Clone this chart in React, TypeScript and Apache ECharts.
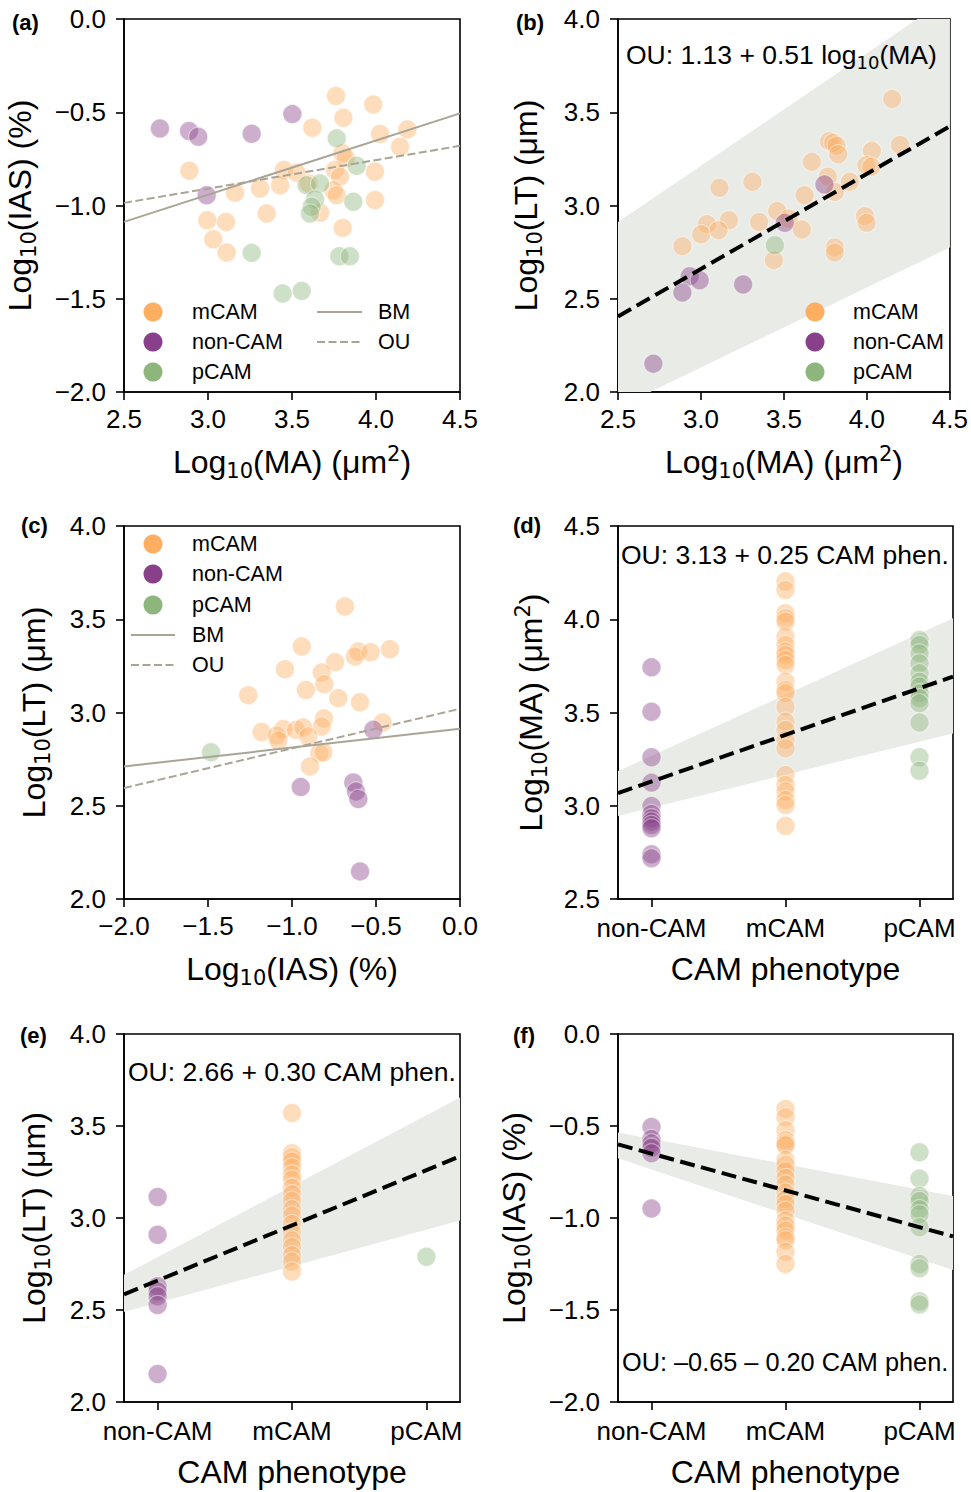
import React, { useEffect, useRef } from 'react';
import * as echarts from 'echarts';

// ---------- categories / labels ----------
const LEGEND_CATS = ['mCAM', 'non-CAM', 'pCAM'];
const AXIS_CATS = ['non-CAM', 'mCAM', 'pCAM'];
const MODELS = ['BM', 'OU'];

// ---------- panel (a): Log10(MA) vs Log10(IAS) ----------
const aMCAM = [[3.762, -0.413], [3.984, -0.458], [3.806, -0.53], [3.621, -0.583], [4.024, -0.617], [4.187, -0.592], [4.143, -0.685], [3.8, -0.72], [3.82, -0.745], [2.889, -0.814], [3.452, -0.81], [3.528, -0.825], [3.756, -0.81], [3.786, -0.846], [3.429, -0.891], [3.31, -0.909], [3.161, -0.932], [3.746, -0.918], [3.766, -0.945], [3.994, -0.819], [3.994, -0.971], [3.349, -1.043], [3.667, -1.039], [2.996, -1.079], [3.107, -1.088], [3.032, -1.181], [3.111, -1.252], [3.802, -1.12], [3.6, -0.882]];
const aNonCAM = [[2.714, -0.587], [2.887, -0.601], [2.942, -0.631], [3.26, -0.615], [3.502, -0.51], [2.992, -0.945]];
const aPCAM = [[3.766, -0.64], [3.885, -0.787], [3.587, -0.891], [3.667, -0.882], [3.637, -0.968], [3.617, -1.007], [3.607, -1.043], [3.865, -0.98], [3.26, -1.254], [3.782, -1.272], [3.845, -1.272], [3.444, -1.472], [3.558, -1.458]];
const aBM = [[2.5, -1.088], [4.5, -0.506]];
const aOU = [[2.5, -0.986], [4.5, -0.68]];

// ---------- panel (b): Log10(MA) vs Log10(LT) ----------
const bMCAM = [[4.152, 3.571], [3.772, 3.345], [3.797, 3.336], [3.817, 3.32], [3.827, 3.275], [4.199, 3.324], [4.03, 3.293], [3.997, 3.216], [4.026, 3.208], [3.668, 3.234], [3.764, 3.154], [3.897, 3.127], [3.807, 3.073], [3.31, 3.127], [3.111, 3.095], [3.624, 3.055], [3.459, 2.97], [3.529, 2.93], [3.35, 2.912], [3.168, 2.921], [3.036, 2.9], [3.001, 2.846], [3.106, 2.868], [2.888, 2.782], [3.608, 2.871], [3.988, 2.943], [3.998, 2.907], [3.806, 2.775], [3.806, 2.748], [3.439, 2.707]];
const bNonCAM = [[3.744, 3.113], [3.505, 2.907], [2.932, 2.621], [2.992, 2.599], [2.888, 2.533], [3.254, 2.576], [2.713, 2.152]];
const bPCAM = [[3.445, 2.787]];
const bOU = [1.13, 0.51];
const bBandLow = [[2.5, 1.917], [4.5, 2.775]];
const bBandHigh = [[2.5, 2.912], [4.5, 4.118]];

// ---------- panel (c): Log10(IAS) vs Log10(LT) ----------
const cMCAM = [[-0.685, 3.568], [-0.942, 3.354], [-0.605, 3.327], [-0.625, 3.3], [-0.532, 3.323], [-0.417, 3.339], [-0.744, 3.27], [-1.042, 3.232], [-0.823, 3.214], [-0.808, 3.152], [-0.917, 3.121], [-0.724, 3.077], [-1.26, 3.093], [-0.595, 3.055], [-0.81, 2.968], [-0.823, 2.925], [-0.46, 2.946], [-1.181, 2.895], [-1.052, 2.911], [-0.976, 2.907], [-0.933, 2.92], [-0.903, 2.871], [-1.091, 2.877], [-1.081, 2.85], [-0.837, 2.782], [-0.813, 2.787], [-0.893, 2.711]];
const cNonCAM = [[-0.516, 2.907], [-0.635, 2.625], [-0.619, 2.577], [-0.605, 2.536], [-0.948, 2.6], [-0.595, 2.148]];
const cPCAM = [[-1.482, 2.787]];
const cBM = [[-2, 2.711], [0, 2.9125]];
const cOU = [[-2, 2.595], [0, 3.02]];

// ---------- panel (d): CAM phenotype vs Log10(MA) ----------
const dNonCAM = [3.742, 3.504, 3.26, 3.124, 2.999, 2.956, 2.933, 2.915, 2.897, 2.879, 2.74, 2.718];
const dMCAM = [4.202, 4.157, 4.032, 4.005, 3.987, 3.907, 3.862, 3.826, 3.808, 3.782, 3.755, 3.665, 3.621, 3.603, 3.531, 3.451, 3.406, 3.353, 3.308, 3.165, 3.111, 3.076, 3.031, 3.004, 2.891];
const dPCAM = [3.889, 3.862, 3.817, 3.764, 3.71, 3.665, 3.639, 3.603, 3.576, 3.549, 3.446, 3.26, 3.188];
const dOU = [3.13, 0.25];
const dBandLow = [[-0.25, 2.945], [2.25, 3.388]];
const dBandHigh = [[-0.25, 3.186], [2.25, 4.005]];

// ---------- panel (e): CAM phenotype vs Log10(LT) ----------
const eNonCAM = [3.114, 2.909, 2.629, 2.602, 2.575, 2.527, 2.152];
const eMCAM = [3.571, 3.352, 3.33, 3.307, 3.275, 3.236, 3.209, 3.164, 3.129, 3.093, 3.048, 3.013, 2.968, 2.923, 2.879, 2.843, 2.798, 2.763, 2.709];
const ePCAM = [2.789];
const eOU = [2.66, 0.3];
const eBandLow = [[-0.25, 2.489], [2.25, 2.986]];
const eBandHigh = [[-0.25, 2.691], [2.25, 3.655]];

// ---------- panel (f): CAM phenotype vs Log10(IAS) ----------
const fNonCAM = [-0.505, -0.571, -0.595, -0.618, -0.648, -0.948];
const fMCAM = [-0.407, -0.452, -0.523, -0.577, -0.595, -0.604, -0.684, -0.711, -0.746, -0.782, -0.818, -0.862, -0.898, -0.925, -0.961, -1.014, -1.041, -1.068, -1.104, -1.121, -1.184, -1.25];
const fPCAM = [-0.643, -0.786, -0.88, -0.907, -0.952, -0.979, -1.05, -1.25, -1.273, -1.452, -1.47];
const fOU = [-0.65, -0.2];
const fBandLow = [[-0.25, -0.675], [2.25, -1.282]];
const fBandHigh = [[-0.25, -0.536], [2.25, -0.88]];

// ---------- styles ----------
const FONT = '"Liberation Sans", Arial, Helvetica, sans-serif';
const MATH_FONT = '"DejaVu Sans", sans-serif';
const ORANGE = '#FDAE61';
const PURPLE = '#874089';
const GREEN = '#8DB67C';
const GRAY = '#A9A596';
const BAND = '#E9EBE7';
const TICK_FS = 26;
const NAME_FS = 32;
const SUB_FS = 21;

const GRIDS = [
  { left: 124, top: 19, width: 336, height: 373 },
  { left: 618, top: 19, width: 335, height: 373 },
  { left: 124, top: 526, width: 336, height: 373 },
  { left: 618, top: 526, width: 335, height: 373 },
  { left: 124, top: 1034, width: 336, height: 373 },
  { left: 618, top: 1034, width: 335, height: 373 },
];

const richName = {
  s: { fontSize: SUB_FS, fontFamily: MATH_FONT, color: '#000', lineHeight: 14, verticalAlign: 'bottom' },
  p: { fontSize: SUB_FS, fontFamily: MATH_FONT, color: '#000', lineHeight: 14, verticalAlign: 'top' },
};

const fmtNum = (v: number) => {
  const s = Math.abs(v).toFixed(1);
  return v < -1e-9 ? '\u2212' + s : s;
};

const axisCommon = {
  axisLine: { show: true, onZero: false, lineStyle: { color: '#000', width: 1.6 } },
  axisTick: { show: true, inside: false, length: 8, lineStyle: { color: '#000', width: 1.6 } },
  splitLine: { show: false },
  nameTextStyle: { fontSize: NAME_FS, fontFamily: FONT, color: '#000', lineHeight: 38, rich: richName },
};

function xValueAxis(gi: number, min: number, max: number, name: string) {
  return {
    ...axisCommon,
    type: 'value', gridIndex: gi, min, max, interval: 0.5,
    name, nameLocation: 'middle', nameGap: 51,
    axisLabel: { fontSize: TICK_FS, fontFamily: FONT, color: '#000', margin: 14, formatter: fmtNum, showMinLabel: true, showMaxLabel: true },
  };
}

function xCatAxis(gi: number) {
  return {
    ...axisCommon,
    type: 'value', gridIndex: gi, min: -0.25, max: 2.25,
    name: 'CAM phenotype', nameLocation: 'middle', nameGap: 51,
    axisTick: { ...axisCommon.axisTick, customValues: [0, 1, 2] },
    axisLabel: {
      fontSize: TICK_FS, fontFamily: FONT, color: '#000', margin: 16,
      customValues: [0, 1, 2],
      formatter: (v: number) => AXIS_CATS[Math.round(v)] ?? '',
    },
  };
}

function yValueAxis(gi: number, min: number, max: number, name: string, gap: number) {
  return {
    ...axisCommon,
    type: 'value', gridIndex: gi, min, max, interval: 0.5,
    name, nameLocation: 'middle', nameGap: gap, nameRotate: 90,
    axisLabel: { fontSize: TICK_FS, fontFamily: FONT, color: '#000', margin: 18, formatter: fmtNum, showMinLabel: true, showMaxLabel: true },
  };
}

function scatter(gi: number, data: number[][], color: string) {
  return {
    type: 'scatter', xAxisIndex: gi, yAxisIndex: gi, data, symbolSize: 19, z: 3, silent: true,
    itemStyle: { color, opacity: 0.42, borderColor: '#fff', borderWidth: 1.2 },
  };
}

function catScatter(gi: number, cat: number, vals: number[], color: string) {
  return scatter(gi, vals.map((v) => [cat, v]), color);
}

function line(gi: number, data: number[][], color: string, width: number, dash: any) {
  return {
    type: 'line', xAxisIndex: gi, yAxisIndex: gi, data, symbol: 'none', z: 5, silent: true, clip: true,
    lineStyle: { color, width, type: dash, cap: 'butt' },
  };
}

function ouLine(gi: number, coef: number[], x0: number, x1: number) {
  return line(gi, [[x0, coef[0] + coef[1] * x0], [x1, coef[0] + coef[1] * x1]], '#000', 4, [15, 6.5]);
}

function band(gi: number, low: number[][], high: number[][]) {
  return {
    type: 'custom', xAxisIndex: gi, yAxisIndex: gi, clip: true, silent: true, z: 1,
    data: [[low[0][0], low[0][1]]],
    renderItem: (_params: any, api: any) => {
      const pts = [...low.map((p) => api.coord(p)), ...high.slice().reverse().map((p) => api.coord(p))];
      return { type: 'polygon', shape: { points: pts }, style: { fill: BAND } };
    },
  };
}

// ---------- legend / annotation graphics ----------
const catColors = [ORANGE, PURPLE, GREEN];
const LEG_FS = 21.5;

function legendCats(cx: number, tx: number, ys: number[]) {
  const out: any[] = [];
  LEGEND_CATS.forEach((c, i) => {
    out.push({ type: 'circle', shape: { cx, cy: ys[i], r: 9.5 }, style: { fill: catColors[i] }, z: 10 });
    out.push({ type: 'text', x: tx, y: ys[i], z: 10, style: { text: c, fontSize: LEG_FS, fontFamily: FONT, fill: '#000', verticalAlign: 'middle' } });
  });
  return out;
}

function legendModels(x1: number, x2: number, tx: number, ys: number[]) {
  const out: any[] = [];
  MODELS.forEach((m, i) => {
    out.push({ type: 'line', z: 10, shape: { x1, y1: ys[i], x2, y2: ys[i] }, style: { stroke: GRAY, lineWidth: 2, lineDash: i === 0 ? null : [8, 3.5] } });
    out.push({ type: 'text', x: tx, y: ys[i], z: 10, style: { text: m, fontSize: LEG_FS, fontFamily: FONT, fill: '#000', verticalAlign: 'middle' } });
  });
  return out;
}

function annot(x: number, y: number, text: string, fs: number) {
  return {
    type: 'text', x, y, z: 10,
    style: {
      text, fontSize: fs, fontFamily: FONT, fill: '#000', verticalAlign: 'middle', lineHeight: 32,
      rich: { s: { fontSize: 18, fontFamily: MATH_FONT, fill: '#000', lineHeight: 12, verticalAlign: 'bottom' } },
    },
  };
}

function panelLabel(x: number, y: number, t: string) {
  return { type: 'text', x, y, z: 10, style: { text: t, fontSize: 22, fontWeight: 'bold', fontFamily: FONT, fill: '#000', verticalAlign: 'middle' } };
}

export default function App() {
  const ref = useRef<HTMLDivElement>(null);
  useEffect(() => {
    if (!ref.current) return;
    const chart = echarts.init(ref.current, undefined, { renderer: 'svg' });
    const nameMA = 'Log{s|10}(MA) (\u03bcm{p|2})';
    const nameIAS = 'Log{s|10}(IAS) (%)';
    const nameLT = 'Log{s|10}(LT) (\u03bcm)';
    const option: any = {
      animation: false,
      backgroundColor: '#fff',
      grid: GRIDS.map((g) => ({ ...g, show: true, borderColor: '#000', borderWidth: 1.6, backgroundColor: 'transparent', containLabel: false })),
      xAxis: [
        xValueAxis(0, 2.5, 4.5, nameMA),
        xValueAxis(1, 2.5, 4.5, nameMA),
        xValueAxis(2, -2, 0, nameIAS),
        xCatAxis(3),
        xCatAxis(4),
        xCatAxis(5),
      ],
      yAxis: [
        yValueAxis(0, -2, 0, nameIAS, 85),
        yValueAxis(1, 2, 4, nameLT, 73),
        yValueAxis(2, 2, 4, nameLT, 71),
        yValueAxis(3, 2.5, 4.5, nameMA, 68),
        yValueAxis(4, 2, 4, nameLT, 71),
        yValueAxis(5, -2, 0, nameIAS, 85),
      ],
      series: [
        // (a)
        scatter(0, aMCAM, ORANGE), scatter(0, aNonCAM, PURPLE), scatter(0, aPCAM, GREEN),
        line(0, aBM, GRAY, 2, 'solid'), line(0, aOU, GRAY, 2, [8, 3.5]),
        // (b)
        band(1, bBandLow, bBandHigh),
        scatter(1, bMCAM, ORANGE), scatter(1, bNonCAM, PURPLE), scatter(1, bPCAM, GREEN),
        ouLine(1, bOU, 2.5, 4.5),
        // (c)
        scatter(2, cMCAM, ORANGE), scatter(2, cNonCAM, PURPLE), scatter(2, cPCAM, GREEN),
        line(2, cBM, GRAY, 2, 'solid'), line(2, cOU, GRAY, 2, [8, 3.5]),
        // (d)
        band(3, dBandLow, dBandHigh),
        catScatter(3, 0, dNonCAM, PURPLE), catScatter(3, 1, dMCAM, ORANGE), catScatter(3, 2, dPCAM, GREEN),
        ouLine(3, dOU, -0.25, 2.25),
        // (e)
        band(4, eBandLow, eBandHigh),
        catScatter(4, 0, eNonCAM, PURPLE), catScatter(4, 1, eMCAM, ORANGE), catScatter(4, 2, ePCAM, GREEN),
        ouLine(4, eOU, -0.25, 2.25),
        // (f)
        band(5, fBandLow, fBandHigh),
        catScatter(5, 0, fNonCAM, PURPLE), catScatter(5, 1, fMCAM, ORANGE), catScatter(5, 2, fPCAM, GREEN),
        ouLine(5, fOU, -0.25, 2.25),
      ],
      graphic: [
        ...legendCats(153, 192, [312, 342, 372]),
        ...legendModels(317, 362, 378, [312, 342]),
        ...legendCats(815, 853, [312, 342, 372]),
        ...legendCats(153, 192, [544, 574, 605]),
        ...legendModels(131, 175, 192, [635, 665]),
        annot(626, 55, 'OU: 1.13 + 0.51 log{s|10}(MA)', 26.5),
        annot(621, 555, 'OU: 3.13 + 0.25 CAM phen.', 26.5),
        annot(128, 1072, 'OU: 2.66 + 0.30 CAM phen.', 26.5),
        annot(622, 1362, 'OU: \u20130.65 \u2013 0.20 CAM phen.', 25.3),
        panelLabel(12, 22, '(a)'),
        panelLabel(516, 22, '(b)'),
        panelLabel(21, 525, '(c)'),
        panelLabel(513, 525, '(d)'),
        panelLabel(20, 1035, '(e)'),
        panelLabel(513, 1035, '(f)'),
      ],
    };
    chart.setOption(option);
    return () => chart.dispose();
  }, []);
  return <div ref={ref} style={{ position: 'absolute', left: 0, top: 0, width: 971, height: 1492 }} />;
}
